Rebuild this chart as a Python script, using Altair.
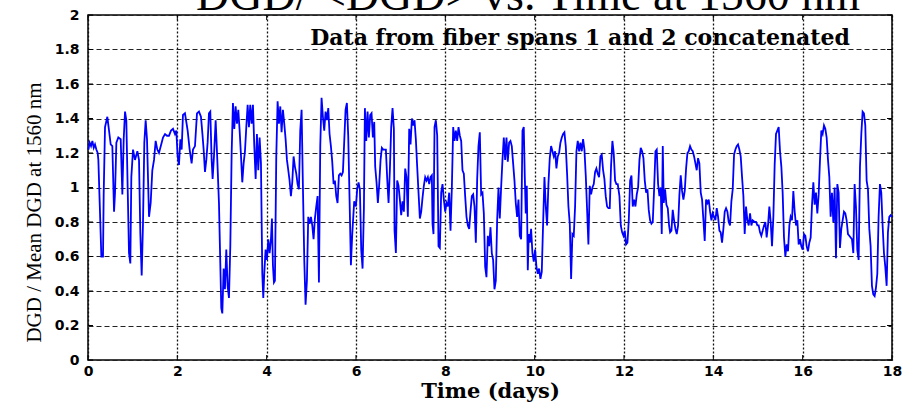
import altair as alt
import pandas as pd

TITLE = "DGD/ <DGD> vs. Time at 1560 nm"
NOTE = "Data from fiber spans 1 and 2 concatenated"
X_TITLE = "Time (days)"
Y_TITLE = "DGD / Mean DGD at 1560 nm"

x_ticks = [0, 2, 4, 6, 8, 10, 12, 14, 16, 18]
y_ticks = [0, 0.2, 0.4, 0.6, 0.8, 1, 1.2, 1.4, 1.6, 1.8, 2]

# ---- data: time (days) and DGD / mean DGD ----
seg1_days = [0.008, 0.038, 0.068, 0.098, 0.128, 0.157, 0.187, 0.217, 0.232, 0.262,
             0.299, 0.336, 0.351, 0.381, 0.433, 0.471, 0.508, 0.545, 0.583, 0.605,
             0.635, 0.679, 0.732, 0.769, 0.799, 0.829, 0.858, 0.888, 0.918, 0.948,
             0.970, 1.008, 1.052, 1.105, 1.142, 1.172, 1.202, 1.231, 1.261, 1.291,
             1.321, 1.366, 1.403, 1.440, 1.478, 1.515, 1.552, 1.589, 1.649, 1.679,
             1.724, 1.768, 1.813, 1.858, 1.903, 1.947, 1.977, 2.007, 2.037, 2.067,
             2.097, 2.126, 2.171, 2.201, 2.231, 2.276, 2.320, 2.350, 2.395, 2.440,
             2.484, 2.529, 2.559, 2.589, 2.619, 2.649, 2.678, 2.708, 2.738, 2.768,
             2.790, 2.820, 2.858, 2.895, 2.932]
seg1_vals = [1.22, 1.26, 1.24, 1.27, 1.23, 1.25, 1.22, 1.20, 1.16, 0.91,
             0.60, 0.60, 0.96, 1.35, 1.41, 1.33, 1.25, 1.24, 0.86, 0.97,
             1.26, 1.29, 1.28, 0.96, 1.28, 1.44, 1.39, 1.00, 0.62, 0.56,
             1.06, 1.22, 1.16, 1.21, 1.16, 0.73, 0.49, 0.79, 1.26, 1.39,
             1.28, 0.83, 0.91, 1.10, 1.16, 1.27, 1.22, 1.20, 1.26, 1.29,
             1.31, 1.30, 1.30, 1.33, 1.34, 1.31, 1.33, 1.18, 1.13, 1.28,
             1.22, 1.42, 1.43, 1.38, 1.33, 1.22, 1.14, 1.22, 1.24, 1.43,
             1.44, 1.41, 1.32, 1.22, 1.09, 1.16, 1.26, 1.43, 1.44, 1.16,
             1.05, 1.18, 1.39, 1.16, 0.91]

seg2_days = [2.984, 3.007, 3.037, 3.066, 3.096, 3.126, 3.156, 3.186, 3.216, 3.245,
             3.275, 3.305, 3.335, 3.365, 3.395, 3.424, 3.454, 3.484, 3.514, 3.544,
             3.574, 3.603, 3.633, 3.663, 3.693, 3.723, 3.753, 3.782, 3.812, 3.842,
             3.872, 3.902, 3.924, 3.946, 3.976, 4.006, 4.036, 4.066, 4.096, 4.118,
             4.140, 4.163, 4.185, 4.215, 4.245, 4.275, 4.305, 4.334, 4.364, 4.394,
             4.424, 4.454, 4.484, 4.513, 4.543, 4.573, 4.603, 4.633, 4.663, 4.692,
             4.722, 4.752, 4.782, 4.812, 4.842, 4.871, 4.901, 4.931, 4.961, 4.991,
             5.021, 5.050, 5.080, 5.110, 5.140, 5.170, 5.200, 5.229, 5.259, 5.289,
             5.319, 5.349, 5.379, 5.408, 5.438, 5.468, 5.498, 5.528, 5.558, 5.587,
             5.617, 5.647, 5.677, 5.707, 5.737, 5.766, 5.796, 5.826, 5.856, 5.886,
             5.916]
seg2_vals = [0.30, 0.27, 0.53, 0.41, 0.64, 0.43, 0.36, 0.66, 1.20, 1.49,
             1.34, 1.47, 1.37, 1.45, 1.33, 1.19, 1.03, 1.14, 1.21, 1.35,
             1.48, 1.35, 1.48, 1.37, 1.48, 1.24, 1.05, 1.31, 1.10, 1.29,
             1.14, 0.50, 0.36, 0.50, 0.64, 0.58, 0.70, 0.62, 0.70, 0.82,
             0.55, 0.45, 0.46, 1.18, 1.50, 1.37, 1.47, 1.32, 1.45, 1.37,
             1.28, 1.16, 1.10, 1.04, 0.95, 1.03, 1.18, 1.12, 1.08, 1.02,
             0.99, 1.33, 1.45, 1.00, 0.58, 0.32, 0.46, 0.83, 0.79, 0.83,
             0.78, 0.70, 0.82, 0.89, 0.95, 0.45, 1.24, 1.52, 1.41, 1.33,
             1.44, 1.39, 1.46, 1.31, 1.24, 1.15, 1.02, 1.04, 0.95, 0.91,
             1.07, 1.08, 1.07, 1.09, 1.27, 1.45, 1.49, 1.30, 0.93, 0.55,
             0.73]

seg3_days = [5.960, 5.998, 6.027, 6.057, 6.087, 6.117, 6.147, 6.177, 6.199, 6.229,
             6.259, 6.288, 6.318, 6.348, 6.378, 6.408, 6.430, 6.460, 6.490, 6.520,
             6.550, 6.579, 6.609, 6.639, 6.669, 6.699, 6.729, 6.758, 6.788, 6.818,
             6.848, 6.863, 6.893, 6.922, 6.952, 6.982, 7.012, 7.042, 7.072, 7.101,
             7.131, 7.161, 7.191, 7.221, 7.251, 7.280, 7.310, 7.340, 7.370, 7.400,
             7.430, 7.460, 7.489, 7.519, 7.549, 7.579, 7.609, 7.639, 7.668, 7.698,
             7.713, 7.735, 7.758, 7.788, 7.818, 7.847, 7.877, 7.907, 7.937, 7.967,
             7.997, 8.027, 8.056, 8.086, 8.116, 8.146, 8.176, 8.205, 8.235, 8.265,
             8.295, 8.325, 8.355, 8.384, 8.414, 8.444, 8.474, 8.504, 8.534, 8.563,
             8.593, 8.623, 8.653, 8.683, 8.713, 8.742, 8.772, 8.802, 8.832, 8.862,
             8.892]
seg3_vals = [0.92, 0.89, 0.99, 1.03, 0.99, 0.64, 0.53, 0.88, 1.46, 1.27,
             1.44, 1.29, 1.42, 1.43, 1.29, 1.38, 1.12, 1.03, 0.91, 1.02,
             1.16, 1.23, 1.22, 1.22, 1.22, 1.05, 0.91, 1.10, 1.35, 1.46,
             1.34, 0.75, 0.62, 1.04, 1.01, 0.93, 0.84, 0.92, 0.86, 1.11,
             1.06, 0.83, 1.34, 1.25, 1.40, 1.36, 1.39, 1.28, 1.12, 0.97,
             0.82, 0.86, 0.94, 1.01, 1.06, 1.04, 1.06, 1.02, 1.06, 1.07,
             0.79, 0.73, 1.35, 1.39, 1.30, 0.66, 0.65, 0.97, 1.02, 0.93,
             0.86, 0.91, 0.89, 0.97, 0.75, 1.00, 1.35, 1.27, 1.33, 1.27,
             1.35, 1.30, 1.27, 1.10, 1.08, 0.95, 0.83, 0.78, 0.76, 0.86,
             0.95, 0.96, 0.89, 0.68, 1.05, 1.24, 1.32, 0.96, 0.97, 0.85,
             0.54]

seg4_days = [8.921, 8.951, 8.981, 9.011, 9.040, 9.070, 9.100, 9.130, 9.160, 9.190,
             9.219, 9.249, 9.279, 9.309, 9.339, 9.369, 9.398, 9.428, 9.458, 9.488,
             9.518, 9.548, 9.577, 9.607, 9.637, 9.667, 9.697, 9.727, 9.756, 9.779,
             9.801, 9.824, 9.846, 9.868, 9.891, 9.920, 9.950, 9.980, 10.010, 10.040,
             10.070, 10.099, 10.129, 10.159, 10.189, 10.219, 10.249, 10.278, 10.308, 10.338,
             10.368, 10.398, 10.428, 10.458, 10.487, 10.517, 10.547, 10.577, 10.607, 10.637,
             10.666, 10.696, 10.726, 10.756, 10.786, 10.816, 10.845, 10.875, 10.905, 10.935,
             10.965, 10.995, 11.024, 11.054, 11.084, 11.114, 11.144, 11.174, 11.203, 11.233,
             11.263, 11.293, 11.323, 11.353, 11.382, 11.412, 11.442, 11.472, 11.502, 11.532,
             11.561, 11.591, 11.621, 11.651, 11.681, 11.711, 11.740, 11.770, 11.800, 11.830,
             11.860]
seg4_vals = [0.48, 0.72, 0.66, 0.77, 0.62, 0.58, 0.41, 0.46, 0.81, 1.00,
             0.82, 1.00, 1.16, 1.29, 1.16, 1.29, 1.15, 1.26, 1.27, 1.24,
             1.14, 1.04, 0.91, 0.83, 0.93, 0.72, 0.70, 1.33, 1.35, 1.06,
             0.85, 1.01, 0.52, 0.73, 0.68, 0.76, 0.62, 0.57, 0.64, 0.54,
             0.50, 0.53, 0.47, 0.51, 0.79, 1.06, 0.89, 0.78, 1.02, 1.17,
             1.24, 1.21, 1.18, 1.21, 1.11, 1.18, 1.20, 1.26, 1.29, 1.31,
             1.32, 1.24, 1.08, 0.89, 0.79, 0.47, 0.73, 0.72, 0.89, 1.21,
             1.27, 1.21, 1.26, 1.21, 1.28, 1.22, 1.07, 0.87, 0.67, 1.01,
             0.96, 1.00, 1.02, 1.09, 1.11, 1.08, 1.06, 1.18, 1.19, 1.10,
             1.05, 0.95, 0.89, 0.88, 0.88, 1.13, 1.27, 1.20, 1.04, 1.02,
             1.02]

seg5_days = [11.898, 11.928, 11.958, 11.988, 12.017, 12.047, 12.077, 12.107, 12.137, 12.167,
             12.196, 12.226, 12.256, 12.286, 12.316, 12.346, 12.375, 12.405, 12.435, 12.465,
             12.495, 12.525, 12.554, 12.584, 12.614, 12.644, 12.674, 12.704, 12.733, 12.763,
             12.793, 12.823, 12.845, 12.868, 12.890, 12.920, 12.950, 12.980, 13.009, 13.032,
             13.062, 13.091, 13.121, 13.151, 13.181, 13.211, 13.241, 13.270, 13.300, 13.330,
             13.360, 13.390, 13.420, 13.449, 13.479, 13.509, 13.539, 13.569, 13.599, 13.628,
             13.658, 13.688, 13.718, 13.748, 13.778, 13.807, 13.837, 13.867, 13.897, 13.927,
             13.957, 13.986, 14.016, 14.046, 14.076, 14.106, 14.136, 14.165, 14.195, 14.225,
             14.255, 14.285, 14.315, 14.344, 14.374, 14.404, 14.434, 14.464, 14.494, 14.523,
             14.553, 14.583, 14.613, 14.643, 14.673, 14.702, 14.732, 14.762, 14.792, 14.822,
             14.852, 14.881]
seg5_vals = [0.95, 0.78, 0.74, 0.72, 0.75, 0.67, 0.68, 0.81, 1.04, 1.07,
             0.89, 0.93, 0.89, 0.96, 1.00, 1.16, 1.23, 1.21, 1.17, 1.04,
             0.97, 0.99, 0.87, 0.81, 0.79, 0.80, 0.99, 1.21, 1.22, 1.02,
             0.95, 1.00, 0.73, 1.24, 0.91, 0.99, 0.90, 0.88, 0.78, 0.74,
             0.75, 0.87, 0.81, 0.76, 0.73, 0.78, 0.96, 1.07, 0.98, 0.93,
             0.98, 1.11, 1.20, 1.21, 1.24, 1.22, 1.21, 1.18, 1.14, 1.10,
             1.17, 1.14, 0.97, 0.93, 0.81, 0.69, 0.93, 0.91, 0.93, 0.86,
             0.81, 0.85, 0.83, 0.81, 0.88, 0.83, 0.75, 0.74, 0.68, 0.76,
             0.86, 0.88, 0.86, 0.80, 0.78, 0.92, 0.99, 1.19, 1.22, 1.24,
             1.25, 1.22, 1.18, 1.06, 0.95, 0.73, 0.89, 0.81, 0.78, 0.85,
             0.78, 0.81]

seg6_days = [14.926, 14.956, 14.986, 15.015, 15.045, 15.075, 15.105, 15.135, 15.165, 15.194,
             15.224, 15.254, 15.284, 15.314, 15.344, 15.373, 15.403, 15.433, 15.463, 15.493,
             15.523, 15.552, 15.582, 15.612, 15.642, 15.672, 15.702, 15.731, 15.761, 15.791,
             15.821, 15.851, 15.881, 15.910, 15.940, 15.970, 16.000, 16.030, 16.060, 16.089,
             16.119, 16.149, 16.179, 16.209, 16.239, 16.268, 16.298, 16.328, 16.358, 16.388,
             16.418, 16.447, 16.477, 16.507, 16.537, 16.567, 16.597, 16.626, 16.656, 16.686,
             16.716, 16.746, 16.776, 16.805, 16.835, 16.865, 16.895, 16.925, 16.955, 16.984,
             17.014, 17.044, 17.074, 17.104, 17.134, 17.163, 17.193, 17.223, 17.253, 17.283,
             17.313, 17.342, 17.372, 17.402, 17.432, 17.462, 17.492, 17.521, 17.551, 17.581,
             17.611, 17.641, 17.671, 17.700, 17.730, 17.760, 17.790, 17.820, 17.850, 17.880,
             17.909, 17.939, 17.969, 17.999]
seg6_vals = [0.80, 0.80, 0.78, 0.78, 0.74, 0.72, 0.75, 0.78, 0.80, 0.71,
             0.78, 0.89, 0.80, 0.66, 0.83, 1.13, 1.31, 1.33, 1.35, 1.21,
             1.12, 0.97, 0.71, 0.60, 0.67, 0.63, 0.78, 0.83, 0.81, 0.98,
             0.86, 0.78, 0.81, 0.67, 0.70, 0.66, 0.64, 0.73, 0.72, 0.66,
             0.63, 0.68, 0.71, 0.90, 1.03, 0.90, 0.97, 0.85, 0.96, 1.16,
             1.33, 1.31, 1.36, 1.34, 1.29, 1.16, 1.06, 0.83, 0.97, 0.80,
             1.00, 0.59, 1.02, 0.97, 0.65, 0.76, 0.81, 0.86, 0.85, 0.81,
             0.73, 0.72, 0.71, 0.70, 0.62, 1.02, 0.89, 0.64, 0.58, 1.12,
             1.31, 1.44, 1.43, 1.36, 1.04, 0.99, 0.76, 0.66, 0.43, 0.38,
             0.37, 0.42, 0.50, 0.83, 1.02, 0.97, 0.78, 0.62, 0.54, 0.43,
             0.74, 0.83, 0.84, 0.83]

days = seg1_days + seg2_days + seg3_days + seg4_days + seg5_days + seg6_days
vals = seg1_vals + seg2_vals + seg3_vals + seg4_vals + seg5_vals + seg6_vals
assert len(days) == len(vals)

df = pd.DataFrame({"day": days, "val": vals})
xtick_df = pd.DataFrame({"day": x_ticks})
ytick_df = pd.DataFrame({"val": y_ticks})

W, H = 804, 345

xs = alt.Scale(domain=[0, 18], nice=False, zero=False)
ys = alt.Scale(domain=[0, 2], nice=False, zero=False)

x_axis = alt.Axis(
    values=x_ticks, format="~g", title=X_TITLE,
    grid=True, gridDash=[2, 2], gridColor="#111111", gridWidth=1.3,
    domain=False, ticks=False, labelPadding=4, labelFlush=False,
    labelFont="DejaVu Sans", labelFontWeight="bold", labelFontSize=14, labelColor="black",
    titleFont="DejaVu Serif", titleFontWeight="bold", titleFontSize=21, titleColor="black",
    titleBaseline="alphabetic", titleY=37,
)
y_axis = alt.Axis(
    values=y_ticks, format="~g", title=Y_TITLE,
    grid=True, gridDash=[5, 3], gridColor="#222222", gridWidth=1.1,
    domain=False, ticks=False, labelPadding=9, labelFlush=False,
    labelFont="DejaVu Sans", labelFontWeight="bold", labelFontSize=14, labelColor="black",
    titleFont="Liberation Serif", titleFontWeight="normal", titleFontSize=21, titleColor="black",
    titleAngle=270, titleBaseline="alphabetic", titleAlign="center", titleX=-48, titleY=197,
)

X = alt.X("day:Q", scale=xs, axis=x_axis)
Y = alt.Y("val:Q", scale=ys, axis=y_axis)

line = alt.Chart(df).mark_line(color="#0000FF", strokeWidth=1.8).encode(x=X, y=Y)

tick_left = alt.Chart(ytick_df).mark_rule(color="black", strokeWidth=1).encode(
    y=Y, x=alt.value(0), x2=alt.value(5))
tick_right = alt.Chart(ytick_df).mark_rule(color="black", strokeWidth=1).encode(
    y=Y, x=alt.value(W - 5), x2=alt.value(W))
tick_bottom = alt.Chart(xtick_df).mark_rule(color="black", strokeWidth=1).encode(
    x=X, y=alt.value(H - 5), y2=alt.value(H))
tick_top = alt.Chart(xtick_df).mark_rule(color="black", strokeWidth=1).encode(
    x=X, y=alt.value(0), y2=alt.value(5))

title_txt = alt.Chart(pd.DataFrame({"t": [TITLE]})).mark_text(
    font="Liberation Serif", fontSize=46, align="center", baseline="alphabetic", color="black"
).encode(text="t:N", x=alt.value(440), y=alt.value(-5))

note_txt = alt.Chart(pd.DataFrame({"t": [NOTE]})).mark_text(
    font="DejaVu Serif", fontWeight="bold", fontSize=22, align="center",
    baseline="alphabetic", color="black"
).encode(text="t:N", x=alt.value(492), y=alt.value(30))

chart = alt.layer(
    line, tick_left, tick_right, tick_bottom, tick_top, title_txt, note_txt
).properties(
    width=W, height=H,
    autosize=alt.AutoSizeParams(type="none"),
    padding={"left": 88, "top": 15, "right": 14, "bottom": 43},
    background="white",
).configure_view(stroke="black", strokeWidth=1.5)

chart.save("out.html", embed_options={"renderer": "svg", "actions": False})
